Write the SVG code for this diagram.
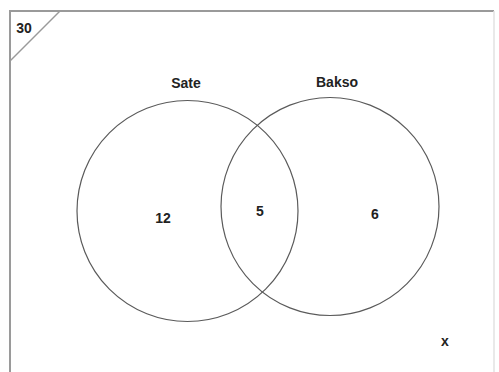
<svg xmlns="http://www.w3.org/2000/svg" width="499" height="372" viewBox="0 0 499 372">
<style>
.frame{fill:none;stroke:#9a9a9a;stroke-width:2}
.set{fill:none;stroke:#5a5a5a;stroke-width:1.2}
.lbl{font-family:"Liberation Sans",Arial,sans-serif;font-weight:bold;font-size:14px;fill:#222;text-anchor:middle}
</style>
<rect width="499" height="372" fill="#fff"/>
<g id="universe">
<path class="frame" d="M10,380 V11 H494"/>
<line x1="494" y1="11" x2="494" y2="380" stroke="#e2e2e2" stroke-width="1.5"/>
<line x1="60" y1="11" x2="10" y2="61" stroke="#9a9a9a" stroke-width="1.5"/>
<text class="lbl" x="24" y="33" font-size="13">30</text>
</g>
<g id="sate">
<circle class="set" cx="187.5" cy="211" r="110.5"/>
<text class="lbl" x="186" y="88">Sate</text>
<text class="lbl" x="163" y="223">12</text>
</g>
<g id="bakso">
<circle class="set" cx="330" cy="206.5" r="109"/>
<text class="lbl" x="337" y="87">Bakso</text>
<text class="lbl" x="375" y="219">6</text>
</g>
<g id="intersection">
<text class="lbl" x="260" y="216">5</text>
</g>
<g id="outside">
<text class="lbl" x="445" y="346">x</text>
</g>
<g id="connectors"/>
</svg>
